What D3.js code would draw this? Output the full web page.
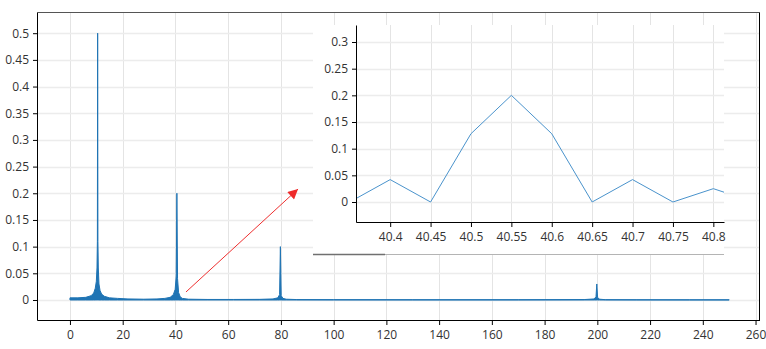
<!DOCTYPE html>
<html>
<head>
<meta charset="utf-8">
<script src="https://cdn.jsdelivr.net/npm/d3@7"></script>
<style>
  body { margin: 0; background: #fff; }
  svg { display: block; }
  .tick text { fill: #333; font-size: 12px; font-family: "Open Sans", "Noto Sans", sans-serif; }
</style>
</head>
<body>
<div id="chart"></div>
<script>
// datos leidos del grafico
// espectro principal (envolvente de la senal, frecuencia -> amplitud)
const mainFreq = [0, 3, 6, 8, 9, 9.6, 10.0, 10.25, 10.4, 10.5, 10.6, 10.75, 11.0, 11.4, 12, 13, 15, 18, 22, 28, 33, 36, 38, 39.2, 39.9, 40.3, 40.55, 40.8, 41.2, 41.8, 42.6, 45, 52, 62, 72, 77, 78.8, 79.5, 79.8, 80.1, 80.8, 82, 86, 100, 130, 170, 195, 198.8, 199.5, 199.8, 200.1, 200.8, 203, 215, 235, 250]
const mainAmp  = [0.004, 0.004, 0.005, 0.008, 0.013, 0.022, 0.035, 0.06, 0.11, 0.5, 0.11, 0.06, 0.03, 0.018, 0.011, 0.007, 0.004, 0.003, 0.002, 0.0015, 0.002, 0.003, 0.005, 0.01, 0.02, 0.045, 0.2, 0.04, 0.014, 0.006, 0.003, 0.0015, 0.001, 0.001, 0.0012, 0.002, 0.004, 0.01, 0.1, 0.008, 0.003, 0.0015, 0.0008, 0.0006, 0.0005, 0.0005, 0.0008, 0.002, 0.006, 0.03, 0.005, 0.0015, 0.0006, 0.0004, 0.0003, 0.0003]

// detalle ampliado alrededor de 40.55
const insetFreq = [40.35, 40.4, 40.45, 40.5, 40.55, 40.6, 40.65, 40.7, 40.75, 40.8, 40.85]
const insetAmp  = [0.0, 0.042, 0.0, 0.128, 0.2, 0.128, 0.0, 0.042, 0.0, 0.025, 0.0]

// ticks
const mainXTicks = d3.range(0, 261, 20)
const mainYTicks = d3.range(0, 0.501, 0.05)
const insetXTicks = [40.4, 40.45, 40.5, 40.55, 40.6, 40.65, 40.7, 40.75, 40.8]
const insetYTicks = [0, 0.05, 0.1, 0.15, 0.2, 0.25, 0.3]

// flecha (en unidades de datos)
const arrowFrom = [44, 0.015]
const arrowTo = [86.5, 0.208]

//Constantes
const width = 766
const height = 349
const plot = { left: 37, top: 12.5, right: 759.5, bottom: 320 }
const inset = { left: 313, top: 25, right: 724, bottom: 255, axisLeft: 356, axisBottom: 222 }
const blue = "#1f74b4"
const gridColor = "#e4e4e4"

const svg = d3.select("div#chart")
   .append("svg")
   .attr("width", width)
   .attr("height", height)

// Escalas
const x = d3.scaleLinear().domain([-12.5, 261.5]).range([plot.left, plot.right])
const y = d3.scaleLinear().domain([-0.0375, 0.5388]).range([plot.bottom, plot.top])

// Grid principal
const grid = svg.append("g").attr("class", "grid")
grid.selectAll("line.v").data(mainXTicks).join("line")
    .attr("class", "v")
    .attr("x1", d => Math.round(x(d)) + 0.5).attr("x2", d => Math.round(x(d)) + 0.5)
    .attr("y1", plot.top).attr("y2", plot.bottom)
    .attr("stroke", gridColor)
grid.selectAll("line.h").data(mainYTicks).join("line")
    .attr("class", "h")
    .attr("y1", d => Math.round(y(d)) + 0.5).attr("y2", d => Math.round(y(d)) + 0.5)
    .attr("x1", plot.left).attr("x2", plot.right)
    .attr("stroke", "#ececec").attr("stroke-width", 1.5)

// Serie principal
const area = d3.area()
    .x((d, i) => x(mainFreq[i]))
    .y0(y(0))
    .y1((d, i) => y(mainAmp[i]))
svg.append("path")
    .datum(mainAmp)
    .attr("d", area)
    .attr("fill", blue)
    .attr("stroke", blue)
    .attr("stroke-width", 1)
    .attr("stroke-linejoin", "round")

// Marco
svg.append("line")
    .attr("x1", plot.left).attr("x2", plot.right)
    .attr("y1", plot.top).attr("y2", plot.top)
    .attr("stroke", "#555")
svg.append("line")
    .attr("x1", plot.right).attr("x2", plot.right)
    .attr("y1", plot.top).attr("y2", plot.bottom)
    .attr("stroke", "#000")

// Ejes (mayores + menores)
function drawAxes(g, xs, ys, xTicks, yTicks, xMinor, yMinor, xFmt, left, bottom) {
    const xAxisG = g.append("g").attr("transform", `translate(0,${bottom})`)
    xAxisG.call(d3.axisBottom(xs).tickValues(xMinor).tickSize(3).tickFormat(""))
    xAxisG.call(d3.axisBottom(xs).tickValues(xTicks).tickSize(5).tickSizeOuter(0).tickPadding(5).tickFormat(xFmt))
    const yAxisG = g.append("g").attr("transform", `translate(${left},0)`)
    yAxisG.call(d3.axisLeft(ys).tickValues(yMinor).tickSize(2).tickFormat(""))
    yAxisG.call(d3.axisLeft(ys).tickValues(yTicks).tickSize(4).tickSizeOuter(0).tickPadding(4).tickFormat(d3.format("~g")))
    g.selectAll(".domain").attr("stroke", "#000")
    g.selectAll(".tick line").attr("stroke", "#000")
}
const mainAxes = svg.append("g")
drawAxes(mainAxes, x, y, mainXTicks, mainYTicks,
    d3.range(-12, 261, 4), d3.range(-0.03, 0.536, 0.01),
    d3.format("d"), plot.left, plot.bottom)

// Inset
const xi = d3.scaleLinear().domain([40.3577, 40.8132]).range([inset.axisLeft, inset.right])
const yi = d3.scaleLinear().domain([-0.0375, 0.3319]).range([inset.axisBottom, inset.top])

const insetG = svg.append("g").attr("class", "inset")
insetG.append("rect")
    .attr("x", inset.left).attr("y", inset.top)
    .attr("width", inset.right - inset.left).attr("height", inset.bottom - inset.top)
    .attr("fill", "#fff")
insetG.selectAll("line.v").data(insetXTicks).join("line")
    .attr("class", "v")
    .attr("x1", d => Math.round(xi(d)) + 0.5).attr("x2", d => Math.round(xi(d)) + 0.5)
    .attr("y1", inset.top).attr("y2", inset.axisBottom)
    .attr("stroke", gridColor)
insetG.selectAll("line.h").data(insetYTicks).join("line")
    .attr("class", "h")
    .attr("y1", d => Math.round(yi(d)) + 0.5).attr("y2", d => Math.round(yi(d)) + 0.5)
    .attr("x1", inset.axisLeft).attr("x2", inset.right)
    .attr("stroke", "#ececec").attr("stroke-width", 1.5)

svg.append("clipPath").attr("id", "insetClip")
    .append("rect")
    .attr("x", inset.axisLeft).attr("y", inset.top)
    .attr("width", inset.right - inset.axisLeft).attr("height", inset.axisBottom - inset.top)
insetG.append("path")
    .datum(insetAmp)
    .attr("clip-path", "url(#insetClip)")
    .attr("d", d3.line().x((d, i) => xi(insetFreq[i])).y(d => yi(d)))
    .attr("fill", "none")
    .attr("stroke", "#4a93cc")
    .attr("stroke-width", 1)

drawAxes(insetG, xi, yi, insetXTicks, insetYTicks,
    d3.range(40.36, 40.815, 0.01), d3.range(-0.03, 0.331, 0.01),
    d => d3.format("~g")(+d.toFixed(2)), inset.axisLeft, inset.axisBottom)

// barra gris inferior del inset
insetG.append("line")
    .attr("x1", inset.left).attr("x2", inset.right)
    .attr("y1", inset.bottom - 0.5).attr("y2", inset.bottom - 0.5)
    .attr("stroke", "#b4b4b4")
insetG.append("line")
    .attr("x1", inset.left).attr("x2", 385)
    .attr("y1", inset.bottom - 0.5).attr("y2", inset.bottom - 0.5)
    .attr("stroke", "#707070").attr("stroke-width", 1.5)

// Flecha roja
svg.append("defs").append("marker")
    .attr("id", "arrowHead")
    .attr("viewBox", "0 0 10 10")
    .attr("refX", 10).attr("refY", 5)
    .attr("markerWidth", 11).attr("markerHeight", 10)
    .attr("markerUnits", "userSpaceOnUse")
    .attr("orient", "auto")
    .append("path")
    .attr("d", "M0,0 L10,5 L0,10 Z")
    .attr("fill", "#ee2a2a")
svg.append("line")
    .attr("x1", x(arrowFrom[0])).attr("y1", y(arrowFrom[1]))
    .attr("x2", x(arrowTo[0])).attr("y2", y(arrowTo[1]))
    .attr("stroke", "#ee3030")
    .attr("stroke-width", 1)
    .attr("marker-end", "url(#arrowHead)")
</script>
</body>
</html>
